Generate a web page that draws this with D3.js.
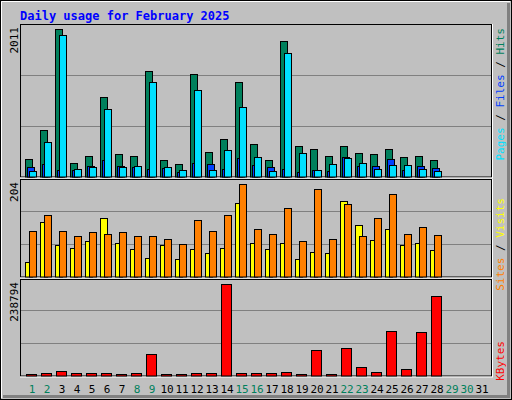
<!DOCTYPE html>
<html><head><meta charset="utf-8">
<script src="https://cdn.jsdelivr.net/npm/d3@7"></script>
<style>body{margin:0;background:#fff}</style>
</head><body><div id="chart"></div>
<script>
// Webalizer-style daily usage, February 2025

const days = d3.range(1, 32);
const hits   = [237,633,2011,183,278,1083,306,278,1438,224,169,1397,333,510,1288,442,224,1847,415,374,278,415,319,306,374,265,278,224];
const files  = [74,469,1933,101,132,919,132,146,1288,128,87,1179,87,360,947,265,74,1683,319,87,169,251,183,101,155,155,101,74];
const pages  = [128,169,91,91,146,228,146,132,105,119,60,187,169,105,255,160,128,105,60,91,78,265,146,142,237,87,142,115];
const sites  = [33,120,69,62,78,129,75,60,42,69,38,60,51,64,162,75,60,75,38,55,53,166,113,80,104,69,75,58];
const visits = [100,135,100,89,98,93,98,89,89,82,73,124,100,137,204,106,95,151,78,193,82,160,89,129,182,93,109,91];
const kbytes = [3400,6000,11200,6000,6000,6000,3400,6000,55700,3400,3400,6000,6000,238794,6000,6000,6000,8600,3400,66100,3400,71300,21700,8600,115800,16500,113100,207200];
const weekend = [1,2,8,9,15,16,22,23,29,30];

const W = 512, H = 400;
const font = "'DejaVu Sans Mono', monospace";
const svg = d3.select("#chart").append("svg").attr("width", W).attr("height", H);

// frame
svg.append("rect").attr("x", 0.5).attr("y", 0.5).attr("width", W - 1).attr("height", H - 1)
    .attr("fill", "#c0c0c0").attr("stroke", "#000");
svg.append("path").attr("d", "M1.5,398V1.5H510").attr("stroke", "#fff").attr("fill", "none");
svg.append("path").attr("d", "M508.5,3V396.5H3").attr("stroke", "#808080").attr("stroke-width", 3).attr("fill", "none");

svg.append("text").attr("x", 20).attr("y", 20).text("Daily usage for February 2025")
    .attr("font-family", font).attr("font-weight", "bold").attr("font-size", 12).attr("fill", "#0000ff");

const x = d3.scaleLinear().domain([1, 31]).range([25, 475]);
const left = 20, right = 491;

const panels = [
    { top: 25, bottom: 176.5, rangeTop: 23.5, max: 2011, maxPx: 29.3 },
    { top: 180, bottom: 276.5, rangeTop: 178.3, max: 204, maxPx: 184.3 },
    { top: 280, bottom: 375.5, rangeTop: 277.7, max: 238794, maxPx: 284.3 }
];
panels.forEach(p => {
    const dom = p.max * (p.bottom - p.rangeTop) / (p.bottom - p.maxPx);
    p.y = d3.scaleLinear().domain([0, dom]).range([p.bottom, p.rangeTop]);
    p.dom = dom;
});

// plot boxes and gridlines
panels.forEach(p => {
    svg.append("rect").attr("x", left + 0.5).attr("y", p.top - 0.5).attr("width", right - left)
        .attr("height", p.bottom - p.top + 1).attr("fill", "none").attr("stroke", "#000");
    [1 / 3, 2 / 3].forEach(f => {
        const gy = Math.round(p.y(p.dom * f)) + 0.5;
        svg.append("line").attr("x1", left + 1).attr("x2", right).attr("y1", gy).attr("y2", gy)
            .attr("stroke", "#808080");
    });
    svg.append("line").attr("x1", left).attr("x2", right + 1).attr("y1", p.bottom + 1.5).attr("y2", p.bottom + 1.5)
        .attr("stroke", "#fff");
    svg.append("line").attr("x1", right + 1.5).attr("x2", right + 1.5).attr("y1", p.top - 1).attr("y2", p.bottom + 2)
        .attr("stroke", "#fff");
    svg.append("text").attr("transform", `translate(18,${p.top + 2}) rotate(-90)`)
        .attr("text-anchor", "end").attr("font-family", font).attr("font-size", 11).text(p.max);
});

function bars(vals, p, dx, w, color) {
    svg.append("g").selectAll("rect").data(vals).join("rect")
        .attr("x", (d, i) => x(i + 1) + dx + 0.5)
        .attr("y", d => Math.round(p.y(d)) + 0.5)
        .attr("width", w)
        .attr("height", d => Math.max(1, p.bottom - Math.round(p.y(d))))
        .attr("fill", color).attr("stroke", "#000");
}
bars(hits, panels[0], 0, 7, "#00805c");
bars(pages, panels[0], 2, 7, "#0040ff");
bars(files, panels[0], 4, 7, "#00e0ff");
bars(sites, panels[1], 0, 7, "#ffff00");
bars(visits, panels[1], 4, 7, "#ff8000");
bars(kbytes, panels[2], 1, 10, "#ff0000");

// right side legends (rotated; anchor end = top of text)
function legend(parts, yTop) {
    const t = svg.append("text").attr("transform", `translate(504,${yTop}) rotate(-90)`)
        .attr("text-anchor", "end").attr("font-family", font).attr("font-size", 11);
    parts.forEach(([s, c]) => t.append("tspan").text(s).attr("fill", c));
}
legend([["Pages", "#00e0ff"], [" / ", "#000"], ["Files", "#0040ff"], [" / ", "#000"], ["Hits", "#00805c"]], 28);
legend([["Sites", "#ff8000"], [" / ", "#000"], ["Visits", "#ffff00"]], 198);
legend([["KBytes", "#ff0000"]], 341);

// day labels
svg.append("g").selectAll("text").data(days).join("text")
    .attr("x", d => x(d) + 7).attr("y", 393).attr("text-anchor", "middle")
    .attr("font-family", font).attr("font-size", 11)
    .attr("fill", d => weekend.includes(d) ? "#00805c" : "#000")
    .text(d => d);
</script></body></html>
